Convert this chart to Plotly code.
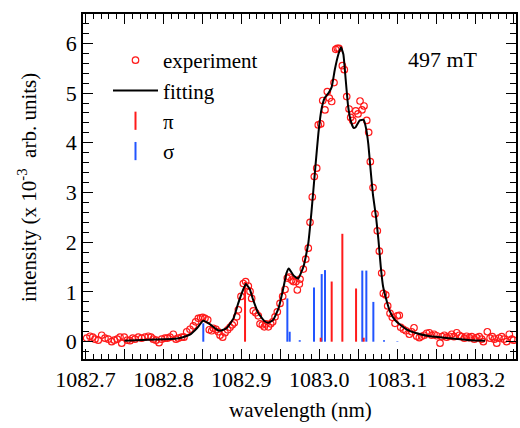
import plotly.graph_objects as go

# ---------------- data ----------------
EXP_X = [1082.7015, 1082.7058, 1082.7092, 1082.7122, 1082.7164, 1082.7208, 1082.725, 1082.7293, 1082.7336, 1082.737,
         1082.7408, 1082.7443, 1082.7465, 1082.7498, 1082.7537, 1082.7571, 1082.7606, 1082.7635, 1082.7678, 1082.7721,
         1082.7764, 1082.7806, 1082.7841, 1082.787, 1082.7905, 1082.7944, 1082.7978, 1082.802, 1082.805, 1082.8085,
         1082.8127, 1082.8162, 1082.8191, 1082.8235, 1082.8264, 1082.8299, 1082.8341, 1082.8384, 1082.8414, 1082.8448,
         1082.8479, 1082.8504, 1082.8534, 1082.8569, 1082.8589, 1082.862, 1082.8641, 1082.8675, 1082.8705, 1082.8727,
         1082.8761, 1082.8791, 1082.8825, 1082.8855, 1082.8884, 1082.891, 1082.8941, 1082.8962, 1082.8996, 1082.9026,
         1082.9056, 1082.909, 1082.9112, 1082.9133, 1082.9154, 1082.9185, 1082.9218, 1082.924, 1082.927, 1082.9295,
         1082.9317, 1082.9347, 1082.9377, 1082.9403, 1082.9433, 1082.9462, 1082.9497, 1082.9531, 1082.9561, 1082.959,
         1082.9616, 1082.9647, 1082.9668, 1082.9702, 1082.9719, 1082.9745, 1082.9754, 1082.9796, 1082.9827, 1082.986,
         1082.9882, 1082.9911, 1082.9937, 1082.9968, 1082.9988, 1083.0019, 1083.0045, 1083.0074, 1083.0104, 1083.013,
         1083.016, 1083.019, 1083.0212, 1083.0232, 1083.0254, 1083.0297, 1083.0322, 1083.0353, 1083.0383, 1083.0404,
         1083.043, 1083.0469, 1083.0498, 1083.0524, 1083.0549, 1083.0575, 1083.061, 1083.0635, 1083.0656, 1083.0691,
         1083.0716, 1083.0746, 1083.0772, 1083.0802, 1083.0823, 1083.0854, 1083.0879, 1083.0909, 1083.0938, 1083.0973,
         1083.1003, 1083.1028, 1083.1046, 1083.108, 1083.1114, 1083.1157, 1083.1187, 1083.1217, 1083.1252, 1083.1285,
         1083.1316, 1083.1349, 1083.138, 1083.1413, 1083.1444, 1083.1474, 1083.1508, 1083.1551, 1083.1576, 1083.1606,
         1083.1637, 1083.167, 1083.1701, 1083.173, 1083.1765, 1083.1798, 1083.1829, 1083.1863, 1083.1893, 1083.1927,
         1083.1958, 1083.1991, 1083.2022, 1083.2055, 1083.2086, 1083.2107, 1083.2158, 1083.2193, 1083.2222, 1083.2248,
         1083.2279, 1083.2308, 1083.2343, 1083.2372, 1083.2407, 1083.244, 1083.2471, 1083.2495]
EXP_Y = [0.07, 0.11, 0.09, 0.05, 0.03, 0.13, 0.07, 0.05, 0.00, 0.03,
         0.05, 0.09, -0.03, 0.09, 0.03, 0.02, 0.07, 0.05, 0.09, 0.07,
         0.09, 0.11, 0.09, 0.05, 0.03, -0.02, 0.05, 0.07, 0.07, 0.09,
         0.15, 0.05, 0.07, 0.09, 0.09, 0.20, 0.25, 0.32, 0.40, 0.47,
         0.48, 0.49, 0.47, 0.44, 0.24, 0.22, 0.27, 0.25, 0.20, 0.13,
         0.09, 0.18, 0.24, 0.29, 0.34, 0.38, 0.50, 0.64, 0.91, 1.17,
         1.21, 1.12, 1.01, 0.87, 0.62, 0.58, 0.52, 0.36, 0.34, 0.30,
         0.36, 0.30, 0.36, 0.40, 0.50, 0.60, 0.77, 0.91, 1.05, 1.28,
         1.30, 1.24, 1.21, 1.21, 1.04, 1.16, 1.26, 1.46, 1.66, 1.88,
         2.40, 2.91, 3.32, 3.49, 4.36, 4.38, 4.85, 4.66, 5.03, 4.90,
         4.83, 5.21, 5.88, 5.90, 5.90, 5.55, 5.47, 4.93, 4.68, 4.51,
         4.45, 4.64, 4.58, 4.84, 4.66, 4.74, 4.45, 4.21, 3.62, 3.10,
         2.57, 2.23, 1.82, 1.38, 0.97, 0.94, 0.72, 0.57, 0.49, 0.37,
         0.52, 0.53, 0.29, 0.25, 0.22, 0.15, 0.20, 0.28, 0.11, 0.08,
         0.11, 0.13, 0.17, 0.18, 0.13, 0.15, 0.12, -0.03, 0.10, 0.13,
         0.09, 0.11, 0.15, 0.10, 0.18, 0.13, 0.10, 0.07, 0.11, 0.08,
         0.10, 0.05, 0.08, 0.10, 0.05, 0.00, 0.20, 0.07, 0.10, 0.05,
         -0.03, 0.07, 0.10, 0.05, 0.00, 0.15, 0.05, 0.03]

FIT_X = [1082.750, 1082.780, 1082.800, 1082.815, 1082.825, 1082.834, 1082.843, 1082.851, 1082.860, 1082.868,
         1082.873, 1082.881, 1082.890, 1082.896, 1082.903, 1082.906, 1082.911, 1082.915, 1082.922, 1082.930,
         1082.935, 1082.941, 1082.948, 1082.954, 1082.958, 1082.961, 1082.967, 1082.973, 1082.980, 1082.986,
         1082.990, 1082.995, 1082.999, 1083.003, 1083.007, 1083.012, 1083.016, 1083.020, 1083.025, 1083.028,
         1083.031, 1083.034, 1083.037, 1083.040, 1083.044, 1083.047, 1083.052, 1083.057, 1083.060, 1083.063,
         1083.066, 1083.069, 1083.073, 1083.076, 1083.079, 1083.082, 1083.087, 1083.091, 1083.097, 1083.104,
         1083.112, 1083.125, 1083.142, 1083.168, 1083.194, 1083.213]
FIT_Y = [0.02, 0.04, 0.05, 0.06, 0.09, 0.14, 0.27, 0.42, 0.35, 0.25,
         0.22, 0.27, 0.47, 0.77, 1.07, 1.16, 1.05, 0.85, 0.57, 0.41,
         0.38, 0.44, 0.68, 1.08, 1.38, 1.47, 1.33, 1.27, 1.52, 1.98,
         2.60, 3.50, 4.20, 4.68, 4.90, 5.00, 5.12, 5.47, 5.80, 5.92,
         5.78, 5.27, 4.75, 4.47, 4.30, 4.32, 4.45, 4.46, 4.30, 3.98,
         3.45, 2.95, 2.50, 2.05, 1.51, 1.11, 0.80, 0.60, 0.44, 0.34,
         0.25, 0.17, 0.11, 0.07, 0.03, 0.02]

PI_X = [1082.9048, 1083.0019, 1083.0160, 1083.0297, 1083.0473, 1083.0571]
PI_H = [1.20, 0.08, 1.21, 2.17, 1.07, 0.08]
SIGMA_X = [1082.8512, 1082.9591, 1082.9621, 1082.9750, 1082.9933, 1083.0032, 1083.0074,
           1083.0553, 1083.0605, 1083.0695, 1083.0832, 1083.1003]
SIGMA_H = [0.37, 0.87, 0.20, 0.03, 1.09, 1.36, 1.44, 1.43, 1.43, 0.80, 0.03, 0.01]

X_TICKS = [1082.70, 1082.75, 1082.80, 1082.85, 1082.90, 1082.95, 1083.00, 1083.05, 1083.10, 1083.15, 1083.20, 1083.25]
X_TICK_LABELS = ["1082.7", "", "1082.8", "", "1082.9", "", "1083.0", "", "1083.1", "", "1083.2", ""]
Y_TICKS = [0, 1, 2, 3, 4, 5, 6]

RED = "#ff1a1a"
BLUE = "#2255ff"
FONT = "Liberation Serif"

W, H = 520, 428
ML, MR, MT, MB = 83, 4, 14, 69


def sticks(xs, hs):
    sx, sy = [], []
    for x, h in zip(xs, hs):
        sx += [x, x, None]
        sy += [0, h, None]
    return sx, sy


fig = go.Figure()

sx, sy = sticks(SIGMA_X, SIGMA_H)
fig.add_trace(go.Scatter(x=sx, y=sy, mode="lines", line=dict(color=BLUE, width=2),
                         showlegend=False, legendgroup="s"))
sx, sy = sticks(PI_X, PI_H)
fig.add_trace(go.Scatter(x=sx, y=sy, mode="lines", line=dict(color=RED, width=2),
                         showlegend=False, legendgroup="p"))

fig.add_trace(go.Scatter(x=EXP_X, y=EXP_Y, mode="markers", name="experiment", legendgroup="e",
                         marker=dict(symbol="circle-open", size=6.5, color=RED, line=dict(width=1.2, color=RED))))
fig.add_trace(go.Scatter(x=FIT_X, y=FIT_Y, mode="lines", name="fitting", legendgroup="f",
                         line=dict(color="black", width=2, shape="spline", smoothing=0.4)))
# legend entries for the stick spectra
fig.add_trace(go.Scatter(x=[None], y=[None], mode="markers", name="π", legendgroup="p",
                         marker=dict(symbol="line-ns-open", size=13, color=RED, line=dict(width=2, color=RED))))
fig.add_trace(go.Scatter(x=[None], y=[None], mode="markers", name="σ", legendgroup="s",
                         marker=dict(symbol="line-ns-open", size=13, color=BLUE, line=dict(width=2, color=BLUE))))

axis_common = dict(showline=True, linecolor="black", linewidth=1.5, mirror="allticks",
                   ticks="inside", ticklen=10, tickwidth=1.3, tickcolor="black",
                   showgrid=False, zeroline=False, automargin=False,
                   tickfont=dict(family=FONT, size=22, color="black"))

fig.update_xaxes(range=[1082.6968, 1083.2526], tickmode="array", tickvals=X_TICKS, ticktext=X_TICK_LABELS,
                 minor=dict(dtick=0.01, tick0=1082.7, ticks="inside", ticklen=5, tickwidth=1.1, tickcolor="black"),
                 **axis_common)
fig.update_yaxes(range=[-0.348, 6.59], tickmode="array", tickvals=Y_TICKS,
                 minor=dict(dtick=0.2, tick0=0, ticks="inside", ticklen=6, tickwidth=1.1, tickcolor="black"),
                 **axis_common)

pw, ph = W - ML - MR, H - MT - MB


def px_to_paper(px, py):
    return (px - ML) / pw, (H - MB - py) / ph


# axis titles
ax, ay = px_to_paper(300, 410)
fig.add_annotation(text="wavelength (nm)", x=ax, y=ay, xref="paper", yref="paper", showarrow=False,
                   xanchor="center", yanchor="middle", font=dict(family=FONT, size=21, color="black"))
ax, ay = px_to_paper(27, 188)
fig.add_annotation(text="intensity (x 10<sup>-3</sup>  arb. units)", x=ax, y=ay, xref="paper", yref="paper",
                   showarrow=False, textangle=-90, xanchor="center", yanchor="middle",
                   font=dict(family=FONT, size=21, color="black"))
ax, ay = px_to_paper(443, 60)
fig.add_annotation(text="497 mT", x=ax, y=ay, xref="paper", yref="paper", showarrow=False,
                   xanchor="center", yanchor="middle", font=dict(family=FONT, size=22, color="black"))

lx, ly = px_to_paper(108, 40)
fig.update_layout(width=W, height=H, margin=dict(l=ML, r=MR, t=MT, b=MB),
                  paper_bgcolor="white", plot_bgcolor="white",
                  legend=dict(x=lx, y=ly, xanchor="left", yanchor="top", bgcolor="rgba(0,0,0,0)",
                              font=dict(family=FONT, size=21, color="black"),
                              itemwidth=45, tracegroupgap=8, traceorder="normal"),
                  showlegend=True)

fig.write_html("out.html", config={"displayModeBar": False},
               post_script="document.body.style.margin='0px';")
